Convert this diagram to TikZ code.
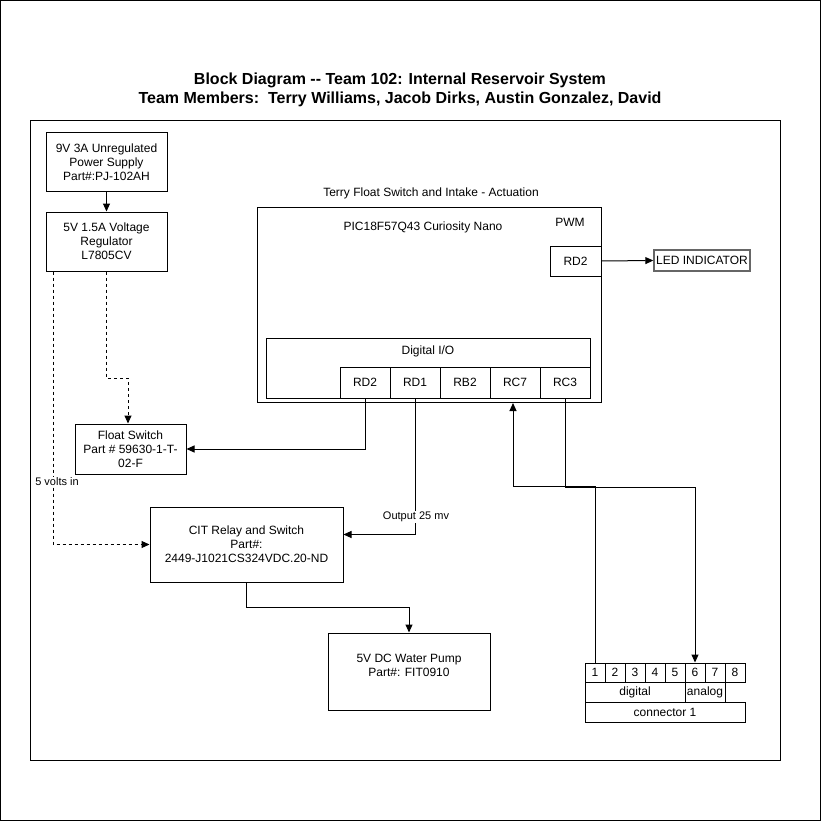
\documentclass[tikz,border=0pt]{standalone}
\usepackage{fontspec}
\setmainfont{Liberation Sans}
\usetikzlibrary{arrows.meta,calc}
\begin{document}
\begin{tikzpicture}[x=1pt,y=-1pt,
  every node/.style={font=\fontsize{12}{14}\selectfont},
  box/.style={draw,line width=1pt,rectangle,inner sep=0pt,align=center},
  lbl/.style={inner sep=1pt,align=center},
  conn/.style={line width=1pt,-{Triangle[length=8pt,width=7pt]}},
  dconn/.style={conn,dash pattern=on 3pt off 3pt}]
\useasboundingbox (0,0) rectangle (821,821);
\draw[line width=1pt] (0.5,0.5) rectangle (820.5,820.5);
\draw[line width=1pt] (30,121) rectangle (780,760);
% title
\node[lbl,font=\fontsize{16}{19}\selectfont\bfseries] (title) at (400,90) {Block Diagram -{}- Team 102: Internal Reservoir System\\Team Members:\ \ Terry Williams, Jacob Dirks, Austin Gonzalez, David};
% left column
\node[box,minimum width=121pt,minimum height=58pt] (ps) at (106.5,162) {9V 3A Unregulated\\Power Supply\\Part\#:PJ-102AH};
\node[box,minimum width=121pt,minimum height=59pt] (reg) at (106.5,241.5) {5V 1.5A Voltage\\Regulator\\L7805CV};
\node[box,minimum width=111pt,minimum height=50pt] (float) at (130.5,449) {Float Switch\\Part \# 59630-1-T-\\02-F};
\node[box,minimum width=193pt,minimum height=75pt] (cit) at (246.5,544.5) {CIT Relay and Switch\\Part\#:\\2449-J1021CS324VDC.20-ND};
\node[box,minimum width=162pt,minimum height=77pt] (pump) at (409,671.5) {};
\node[lbl] (pumptxt) at (409,665) {5V DC Water Pump\\Part\#: FIT0910};
% PIC
\node[lbl] (grp) at (431,193) {Terry Float Switch and Intake - Actuation};
\node[box,minimum width=344pt,minimum height=195pt] (pic) at (429,304.5) {};
\node[lbl] (pictxt) at (423,227) {PIC18F57Q43 Curiosity Nano};
\node[lbl] (pwmtxt) at (570,222) {PWM};
\node[box,minimum width=51pt,minimum height=30pt] (pwm) at (575.5,261) {RD2};
\node[box,draw=black!60,line width=1.4pt,minimum width=96pt,minimum height=21pt] (led) at (702,260.5) {LED INDICATOR};
\node[box,minimum width=324pt,minimum height=60pt] (dio) at (428,368) {};
\node[lbl] (diotxt) at (428,351) {Digital I/O};
\foreach \n/\t [count=\i from 0] in {p1/RD2,p2/RD1,p3/RB2,p4/RC7,p5/RC3}
  \node[box,minimum width=50pt,minimum height=31pt] (\n) at (365+50*\i,382.5) {\t};
% connector
\foreach \i in {1,...,8}
  \node[box,minimum width=20pt,minimum height=19pt] (k\i) at (575+20*\i,672.5) {\i};
\node[box,minimum width=100pt,minimum height=20pt] (dig) at (635,692) {digital};
\node[box,minimum width=40pt,minimum height=20pt] (ana) at (705,692) {analog};
\node[box,minimum width=160pt,minimum height=20pt] (con) at (665,712) {connector 1};
% connections
\draw[conn] (ps.south) -- (reg.north);
\draw[dconn] ([xshift=8pt]reg.south west) |- (cit.west);
\draw[dconn] (reg.south) -- ++(0,106.5) -| ([xshift=-2.5pt]float.north);
\node[lbl,fill=white,inner sep=1pt,font=\fontsize{11}{13}\selectfont] (fivev) at (57,482) {5 volts in};
\draw[conn] (p1.south) |- (float.east);
\draw[conn] (p2.south) |- ([yshift=10pt]cit.east);
\node[lbl,fill=white,inner sep=1pt,font=\fontsize{11}{13}\selectfont] (outlbl) at (416,517) {Output 25 mv};
\coordinate (rc7in) at (513,403);
\draw[conn] (k1.north) |- ($(rc7in)+(0,83)$) -- (rc7in);
\draw[conn] (p5.south) -- ($(p5.south)+(0,89)$) -| (k6.north);
\draw[conn] (pwm.east) -- (led.west);
\draw[conn] (cit.south) -- ++(0,25) -| (pump.north);
\end{tikzpicture}
\end{document}
